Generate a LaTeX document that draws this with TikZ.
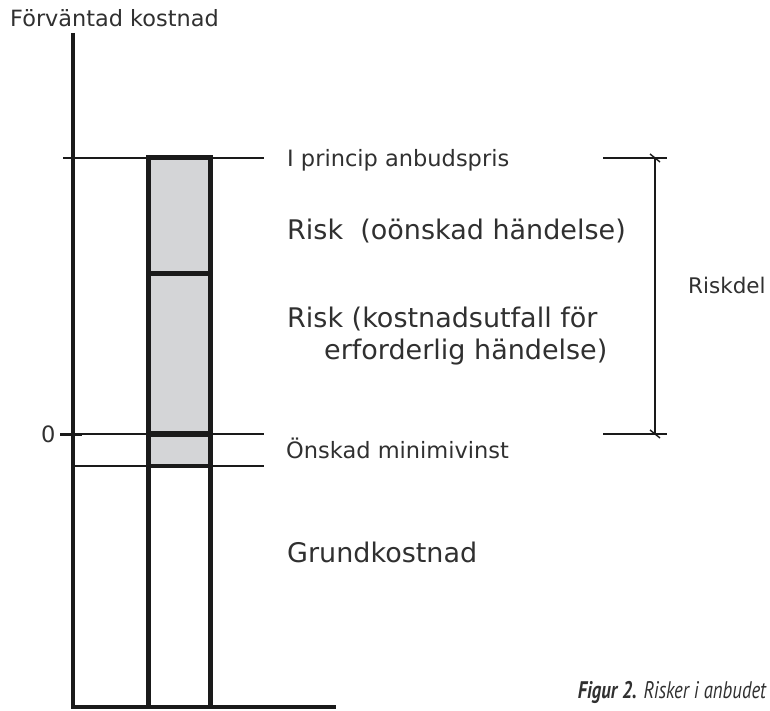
\documentclass[tikz,border=0pt]{standalone}
\usepackage{fontspec}
\setmainfont{DejaVu Sans}
\newfontfamily\capfont[FakeStretch=0.78]{PT Sans}
\usetikzlibrary{calc}
\begin{document}
\begin{tikzpicture}[x=1pt,y=-1pt,
  lbl/.style={anchor=base west,inner sep=0pt,text=txt,font=\fontsize{22.5}{27}\selectfont},
  biglbl/.style={anchor=base west,inner sep=0pt,text=txt,font=\fontsize{27}{32}\selectfont},
  thinline/.style={line width=1.4pt,draw=ink},
  thickline/.style={line width=4pt,draw=ink},
  barline/.style={line width=5pt,draw=ink}]
\definecolor{txt}{HTML}{303030}
\definecolor{ink}{HTML}{1A1A1A}
\definecolor{barfill}{HTML}{D4D5D7}
\useasboundingbox (0,0) rectangle (770,711);
% gray fill
\fill[barfill] (148,158) rectangle (210,466);
% thin horizontal lines
\draw[thinline] (63,158) -- (264,158);
\draw[thinline] (73,434) -- (264,434);
\draw[thinline] (73,466) -- (264,466);
% axis
\draw[thickline] (73,33) -- (73,707) -- (336,707);
% zero tick
\draw[line width=3pt,draw=ink] (60,434) -- (82,434);
% bar
\draw[barline] (148,707) -- (148,158) -- (210,158) -- (210,707);
\draw[barline] (148,273) -- (210,273);
\draw[line width=6pt,draw=ink] (148,434) -- (210,434);
\draw[line width=3.5pt,draw=ink] (148,466) -- (210,466);
% labels
\node[lbl,font=\fontsize{22.4}{27}\selectfont] (title) at (10,27) {Förväntad kostnad};
\node[lbl] (zero) at (41,442) {0};
\node[lbl] (anbud) at (287,167) {I princip anbudspris};
\node[biglbl] (risk1) at (287,240) {Risk\ \ (oönskad händelse)};
\node[biglbl] (risk2a) at (287,327) {Risk (kostnadsutfall för};
\node[biglbl] (risk2b) at (324,359) {erforderlig händelse)};
\node[lbl] (vinst) at (286,458) {Önskad minimivinst};
\node[biglbl] (grund) at (287,562) {Grundkostnad};
\node[lbl,font=\fontsize{21.5}{26}\selectfont] (riskdel) at (688,293) {Riskdel};
\node[anchor=base east,inner sep=0pt,text=txt,font=\capfont\fontsize{24}{28}\selectfont] (cap) at (767,698) {\textbf{\textit{Figur 2.}} \textit{Risker i anbudet}};
% bracket
\coordinate (bt) at (655,158);
\coordinate (bb) at (655,434);
\draw[thinline] (603,158) -- (667,158);
\draw[thinline] (603,434) -- (667,434);
\draw[thinline] (bt) -- (bb);
\draw[thinline] ($(bt)+(-5,-4)$) -- ($(bt)+(5,4)$);
\draw[thinline] ($(bb)+(-5,-4)$) -- ($(bb)+(5,4)$);
\end{tikzpicture}
\end{document}
